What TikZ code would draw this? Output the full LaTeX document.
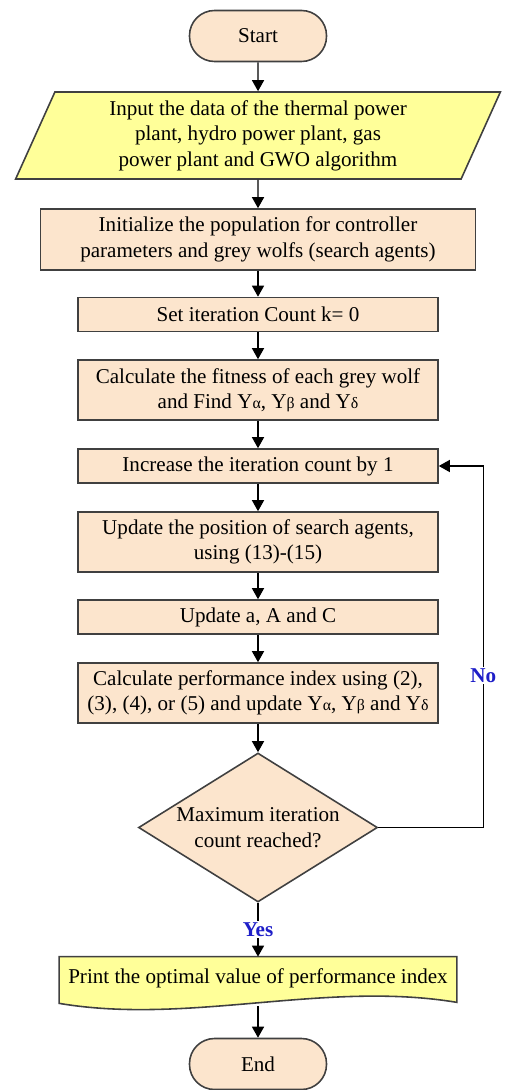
\documentclass[tikz,border=0pt]{standalone}
\usepackage{fontspec}
\setmainfont{Liberation Serif}
\usetikzlibrary{shapes.geometric, arrows.meta, positioning, backgrounds}
\definecolor{boxpeach}{RGB}{252,229,205}
\definecolor{ioyellow}{RGB}{255,255,153}
\definecolor{edgegray}{RGB}{64,64,64}
\definecolor{tagblue}{RGB}{30,30,200}

\tikzset{
  txt/.style={font=\fontsize{12}{14.5}\selectfont, align=center},
  procbox/.style={txt, rectangle, draw=edgegray, line width=0.9pt, fill=boxpeach, minimum width=7.2cm, minimum height=0.68cm, inner xsep=2pt},
  termbox/.style={txt, rectangle, rounded corners=0.5cm, draw=edgegray, line width=0.9pt, fill=boxpeach, minimum width=2.74cm, minimum height=1.02cm},
  iobox/.style={txt, trapezium, trapezium left angle=70, trapezium right angle=110, trapezium stretches=true, draw=edgegray, line width=0.9pt, fill=ioyellow, minimum width=9.7cm, minimum height=1.74cm},
  decbox/.style={txt, diamond, aspect=1.6, draw=edgegray, line width=0.9pt, fill=boxpeach, minimum width=4.78cm, minimum height=2.98cm, inner sep=0pt},
  arr/.style={-{Triangle[length=0.22cm,width=0.24cm]}, line width=0.8pt},
  tag/.style={font=\fontsize{12}{14}\selectfont\bfseries, text=tagblue, fill=white, inner sep=1pt}
}

\begin{document}
\begin{tikzpicture}
    \useasboundingbox (0,0) rectangle (10.12,-21.8);

    % blocks from top to bottom
    \node[termbox] (start) at (5.16,-0.72) {Start};
    \node[iobox] (input) at (5.16,-2.71) {Input the data of the thermal power\\plant, hydro power plant, gas\\power plant and GWO algorithm};
    \node[procbox, minimum width=8.7cm, minimum height=1.22cm] (init) at (5.16,-4.79) {Initialize the population for controller\\parameters and grey wolfs (search agents)};
    \node[procbox] (setk) at (5.16,-6.29) {Set iteration Count k= 0};
    \node[procbox, minimum height=1.2cm] (fitness) at (5.16,-7.8) {Calculate the fitness of each grey wolf\\and Find Y{\small α}, Y{\small β} and Y{\small δ}};
    \node[procbox] (incr) at (5.16,-9.32) {Increase the iteration count by 1};
    \node[procbox, minimum height=1.2cm] (pos) at (5.16,-10.84) {Update the position of search agents,\\using (13)-(15)};
    \node[procbox] (upd) at (5.16,-12.34) {Update a, A and C};
    \node[procbox, minimum height=1.2cm] (perf) at (5.16,-13.86) {Calculate performance index using (2),\\(3), (4), or (5) and update Y{\small α}, Y{\small β} and Y{\small δ}};
    \node[decbox] (check) at (5.16,-16.55) {Maximum iteration\\count reached?};
    \node[txt, minimum width=7.94cm, minimum height=0.86cm] (print) at (5.16,-19.57) {Print the optimal value of performance index};
    \node[termbox] (stop) at (5.16,-21.28) {End};

    % output block with wavy bottom
    \begin{scope}[on background layer]
        \draw[edgegray, line width=0.9pt, fill=ioyellow] (print.north west) -- (print.north east) -- ([yshift=-0.04cm]print.south east)
            .. controls +(-2.64,0.44) and +(2.6,-0.44) .. ([yshift=-0.06cm]print.south west) -- cycle;
    \end{scope}

    % flow
    \draw[arr] (start) -- (input);
    \draw[arr] (input) -- (init);
    \draw[arr] (init) -- (setk);
    \draw[arr] (setk) -- (fitness);
    \draw[arr] (fitness) -- (incr);
    \draw[arr] (incr) -- (pos);
    \draw[arr] (pos) -- (upd);
    \draw[arr] (upd) -- (perf);
    \draw[arr] (perf) -- (check);
    \draw[arr] (check) -- node[tag] {Yes} (print);
    \draw[arr] ([yshift=-0.12cm]print.south) -- (stop);

    % loop back
    \draw[arr] (check.east) -- ++(2.1,0) |- node[tag, pos=0.21] {No} (incr.east);
\end{tikzpicture}
\end{document}
